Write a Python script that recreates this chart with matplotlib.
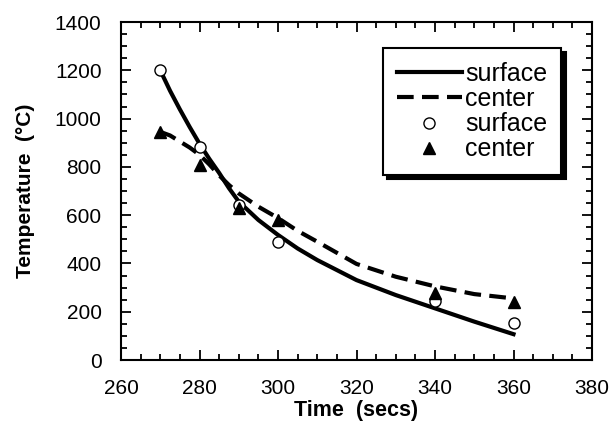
import matplotlib.pyplot as plt
from matplotlib.ticker import MultipleLocator

plt.rcParams['font.family'] = ['Liberation Sans', 'DejaVu Sans']

# fitted curves
fit_t = [270, 272.5, 275, 277.5, 280, 282.5, 285, 287.5, 290, 295, 300, 305, 310,
         320, 330, 340, 350, 360]
fit_surface = [1200, 1115, 1038, 965, 896, 833, 775, 712, 656, 580, 518, 462, 414,
               331, 269, 214, 159, 107]
fit_center = [945, 930, 905, 880, 850, 810, 765, 725, 690, 635, 588, 535, 490,
              398, 345, 305, 273, 255]

# measured points
meas_t = [270, 280, 290, 300, 340, 360]
meas_surface = [1200, 883, 640, 489, 244, 155]
meas_center = [945, 808, 630, 580, 278, 242]

fig = plt.figure(figsize=(6.12, 4.22), dpi=100)
ax = fig.add_axes([121 / 612, 62 / 422, 471 / 612, 338 / 422])

ax.plot(fit_t, fit_surface, color="black", lw=3, label="surface")
ax.plot(fit_t, fit_center, color="black", lw=3, ls=(0, (4, 2)), label="center")
ax.plot(meas_t, meas_surface, ls="none", marker="o", ms=8, mfc="white", mec="black", mew=1.0, label="surface")
ax.plot(meas_t, meas_center, ls="none", marker="^", ms=8, color="black", label="center")

ax.set_xlim(260, 380)
ax.set_ylim(0, 1400)
ax.xaxis.set_major_locator(MultipleLocator(20))
ax.xaxis.set_minor_locator(MultipleLocator(5))
ax.yaxis.set_major_locator(MultipleLocator(200))
ax.yaxis.set_minor_locator(MultipleLocator(50))
ax.tick_params(which="both", direction="in", top=True, right=True, width=1.3, labelsize=15)
ax.tick_params(which="major", length=7, pad=14)
ax.tick_params(which="minor", length=4)
for s in ax.spines.values():
    s.set_linewidth(1.5)

ax.set_xlabel("Time  (secs)", fontsize=15.5, fontweight="bold", labelpad=1)
ax.set_ylabel("Temperature  (°C)", fontsize=15, fontweight="bold", labelpad=14)

leg = ax.legend(loc="upper left", bbox_to_anchor=(262 / 471, 312 / 338), fontsize=18,
                frameon=True, fancybox=False, handlelength=2.6, handletextpad=0.15,
                labelspacing=0.05, borderpad=0.55, borderaxespad=0,
                shadow={"color": "black", "alpha": 1, "ox": 3, "oy": -3})
leg.get_frame().set_edgecolor("black")
leg.get_frame().set_linewidth(1.5)

fig.savefig("out.png", dpi=100)
